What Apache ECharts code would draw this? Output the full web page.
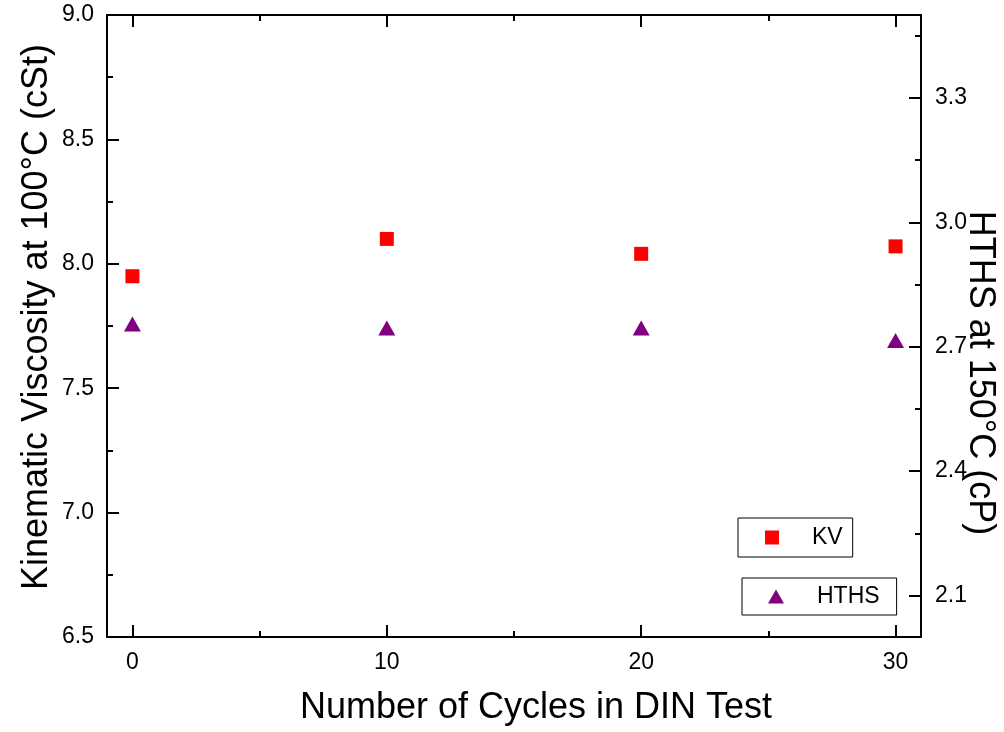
<!DOCTYPE html>
<html>
<head>
<meta charset="utf-8">
<script src="https://cdn.jsdelivr.net/npm/echarts@6/dist/echarts.min.js"></script>
<style>
html,body{margin:0;padding:0;background:#fff;}
#chart{width:1004px;height:732px;}
</style>
</head>
<body>
<div id="chart"></div>
<script>
const cycles = [0, 10, 20, 30];
const kv = [7.95, 8.10, 8.04, 8.07];
const hths = [2.755, 2.745, 2.745, 2.715];
const xMajorTicks = [0, 10, 20, 30];
const xMinorTicks = [5, 15, 25];
const rightMajorTicks = [2.1, 2.4, 2.7, 3.0, 3.3];
const rightMinorTicks = [2.25, 2.55, 2.85, 3.15, 3.45];
const xTitle = 'Number of Cycles in DIN Test';
const leftTitle = 'Kinematic Viscosity at 100°C (cSt)';
const rightTitle = 'HTHS at 150°C (cP)';

const FONT = 'Liberation Sans, Arial, sans-serif';
const black = '#000';
const lineW = 2;
const tickFont = 23;

function xAx(position, ticks, len, showLine, showLabel) {
  return {
    type: 'value', position: position, min: -1, max: 31,
    axisLine: {show: showLine, onZero: false, lineStyle: {color: black, width: lineW}},
    axisTick: {show: true, inside: true, length: len, customValues: ticks, lineStyle: {color: black, width: lineW}},
    axisLabel: showLabel ? {show: true, customValues: ticks, fontSize: tickFont, color: black, fontFamily: FONT, margin: 14} : {show: false},
    splitLine: {show: false}
  };
}
function rAx(ticks, len, showLine, showLabel) {
  return {
    type: 'value', position: 'right', min: 2.0, max: 3.5,
    axisLine: {show: showLine, onZero: false, lineStyle: {color: black, width: lineW}},
    axisTick: {show: true, inside: true, length: len, customValues: ticks, lineStyle: {color: black, width: lineW}},
    axisLabel: showLabel ? {show: true, customValues: ticks, fontSize: tickFont, color: black, fontFamily: FONT, margin: 14,
      formatter: v => Number(v).toFixed(1)} : {show: false},
    splitLine: {show: false}
  };
}

const chart = echarts.init(document.getElementById('chart'), null, {renderer: 'canvas'});
chart.setOption({
  animation: false,
  backgroundColor: '#fff',
  grid: {left: 107, right: 83, top: 15, bottom: 95, containLabel: false, outerBoundsMode: 'none'},
  xAxis: [
    xAx('bottom', xMajorTicks, 12, true, true),
    xAx('bottom', xMinorTicks, 6, false, false),
    xAx('top', xMajorTicks, 12, true, false),
    xAx('top', xMinorTicks, 6, false, false)
  ],
  yAxis: [
    {
      type: 'value', position: 'left', min: 6.5, max: 9.0, interval: 0.5,
      axisLine: {show: true, onZero: false, lineStyle: {color: black, width: lineW}},
      axisTick: {show: true, inside: true, length: 12, lineStyle: {color: black, width: lineW}},
      minorTick: {show: true, splitNumber: 2, length: 6, lineStyle: {color: black, width: lineW}},
      axisLabel: {fontSize: tickFont, color: black, fontFamily: FONT, margin: 13, formatter: v => Number(v).toFixed(1)},
      splitLine: {show: false}
    },
    rAx(rightMajorTicks, 12, true, true),
    rAx(rightMinorTicks, 6, false, false)
  ],
  legend: [
    {
      data: ['KV'], left: 738, top: 518, orient: 'horizontal', selectedMode: false,
      padding: [8, 10, 8, 27], itemWidth: 14, itemHeight: 14,
      borderColor: black, borderWidth: 1,
      textStyle: {fontSize: 23, lineHeight: 23, color: black, fontFamily: FONT, padding: [0, 0, 0, 28]}
    },
    {
      data: ['HTHS'], left: 742, top: 578, orient: 'horizontal', selectedMode: false,
      padding: [7, 17, 7, 26], itemWidth: 16, itemHeight: 14,
      borderColor: black, borderWidth: 1,
      textStyle: {fontSize: 23, lineHeight: 23, color: black, fontFamily: FONT, padding: [0, 0, 0, 28]}
    }
  ],
  graphic: [
    {type: 'text', x: 536, y: 708, style: {text: xTitle, fontSize: 36, fontFamily: FONT, fill: black, align: 'center', verticalAlign: 'middle'}},
    {type: 'text', x: 37, y: 317, rotation: Math.PI / 2, style: {text: leftTitle, fontSize: 36, fontFamily: FONT, fill: black, align: 'center', verticalAlign: 'middle'}},
    {type: 'text', x: 980, y: 373, rotation: -Math.PI / 2, style: {text: rightTitle, fontSize: 36, fontFamily: FONT, fill: black, align: 'center', verticalAlign: 'middle'}}
  ],
  series: [
    {
      name: 'KV', type: 'scatter', xAxisIndex: 0, yAxisIndex: 0,
      symbol: 'rect', symbolSize: 14,
      itemStyle: {color: '#ff0000', opacity: 1},
      data: cycles.map((c, i) => [c, kv[i]])
    },
    {
      name: 'HTHS', type: 'scatter', xAxisIndex: 0, yAxisIndex: 1,
      symbol: 'triangle', symbolSize: [17, 15],
      itemStyle: {color: '#800080', opacity: 1},
      data: cycles.map((c, i) => [c, hths[i]])
    }
  ]
});
</script>
</body>
</html>
